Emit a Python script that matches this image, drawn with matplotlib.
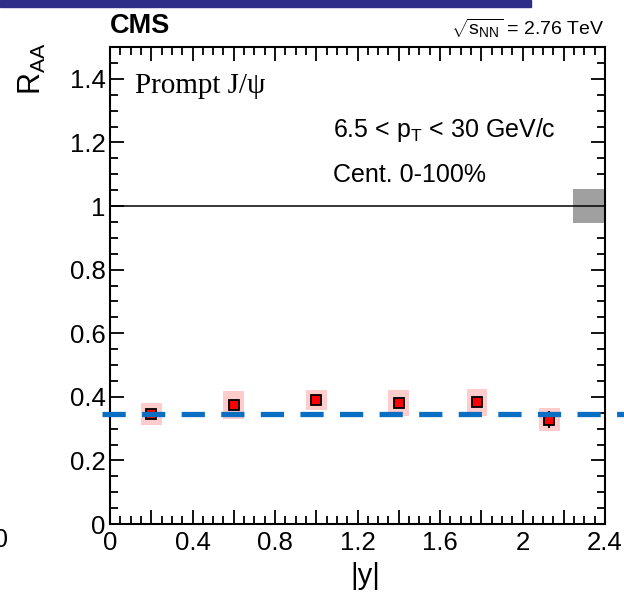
import matplotlib
matplotlib.use('Agg')
import matplotlib.pyplot as plt
from matplotlib.patches import Rectangle
from matplotlib.ticker import FixedLocator, MultipleLocator, FuncFormatter
import numpy as np

# prompt J/psi R_AA vs |y|, 6.5 < pT < 30 GeV/c, cent. 0-100%
rap = [0.2, 0.6, 1.0, 1.4, 1.78, 2.13]
raa = [0.347, 0.373, 0.389, 0.381, 0.383, 0.328]
stat = [0.012, 0.010, 0.012, 0.008, 0.010, 0.026]
syst = [0.035, 0.044, 0.031, 0.040, 0.042, 0.036]
raa_integrated = 0.346
global_unc = 0.055

plt.rcParams['font.family'] = ['Liberation Sans', 'DejaVu Sans']
plt.rcParams['mathtext.fontset'] = 'custom'
plt.rcParams['mathtext.rm'] = 'Liberation Sans'
plt.rcParams['mathtext.it'] = 'Liberation Sans'

W, H = 624, 593
fig = plt.figure(figsize=(W / 100, H / 100), dpi=100)
ax = fig.add_axes([110 / W, 1 - 524 / H, 495 / W, 477 / H])

# systematic boxes
ax.bar(rap, 2 * np.array(syst), width=0.1, bottom=np.array(raa) - np.array(syst),
       color='#ffcccc', linewidth=0, zorder=2)
# global uncertainty box at unity
ax.bar(2.4 - 0.0775, 2 * global_unc, width=0.155, bottom=1 - global_unc,
       color='#a0a0a0', linewidth=0, zorder=2)
ax.axhline(1.0, color='black', lw=1.1, zorder=3)

ax.errorbar(rap, raa, yerr=stat, fmt='s', ms=7.5, mfc='red', mec='black', mew=1.3,
            ecolor='black', elinewidth=1.5, capsize=0, zorder=4)

ax.plot([-0.04, 2.62], [raa_integrated, raa_integrated], color='#0a6fc2', lw=3.8,
        ls=(0, (4.4, 3.1)), clip_on=False, zorder=5)

ax.set_xlim(0, 2.4)
ax.set_ylim(0, 1.5)

ax.xaxis.set_major_locator(FixedLocator(np.arange(0, 2.41, 0.2)))
ax.xaxis.set_minor_locator(MultipleLocator(0.05))
def xfmt(v, pos):
    if abs(v / 0.4 - round(v / 0.4)) > 1e-6:
        return ''
    return '%g' % round(v, 1)
ax.xaxis.set_major_formatter(FuncFormatter(xfmt))
ax.yaxis.set_major_locator(MultipleLocator(0.2))
ax.yaxis.set_minor_locator(MultipleLocator(0.05))
ax.yaxis.set_major_formatter(FuncFormatter(lambda v, p: '%g' % round(v, 1)))

ax.tick_params(which='both', direction='in', top=True, right=True, width=1.3)
ax.tick_params(which='major', length=10, labelsize=18.5)
ax.tick_params(axis='y', which='major', pad=3)
ax.tick_params(axis='x', which='major', pad=5)
ax.tick_params(which='minor', length=5.5)
for s in ax.spines.values():
    s.set_linewidth(1.5)

fig.text(365 / W, 1 - 590 / H, '|y|', fontsize=21, ha='center', va='bottom')
fig.text(32 / W, 1 - 42 / H, r'$\mathrm{R}_{\mathrm{AA}}$', fontsize=22,
         rotation=90, ha='center', va='top')

fig.text(110 / W, 1 - 33 / H, 'CMS', fontsize=19.5, fontweight='bold', ha='left',
         va='baseline')
fig.text(605 / W, 1 - 35 / H, r'$\sqrt{s_{\mathrm{NN}}}$ = 2.76 TeV', fontsize=14,
         ha='right', va='baseline')
fig.text(135 / W, 1 - 93 / H, 'Prompt J/ψ', fontsize=21, ha='left', va='baseline',
         family=['Liberation Serif', 'DejaVu Serif'])
fig.text(333 / W, 1 - 137 / H, r'6.5 < p$_{\mathrm{T}}$ < 30 GeV/c', fontsize=18,
         ha='left', va='baseline')
fig.text(333 / W, 1 - 182 / H, 'Cent. 0-100%', fontsize=18, ha='left', va='baseline')

# neighbouring panel label and page band
fig.text(1 / W, 1 - 540 / H, '0', fontsize=18, ha='center', va='center')
fig.patches.append(Rectangle((0, 1 - 7 / H), 531 / W, 7 / H, transform=fig.transFigure,
                             color='#2e2d88', zorder=10))

fig.savefig('out.png', dpi=100)
